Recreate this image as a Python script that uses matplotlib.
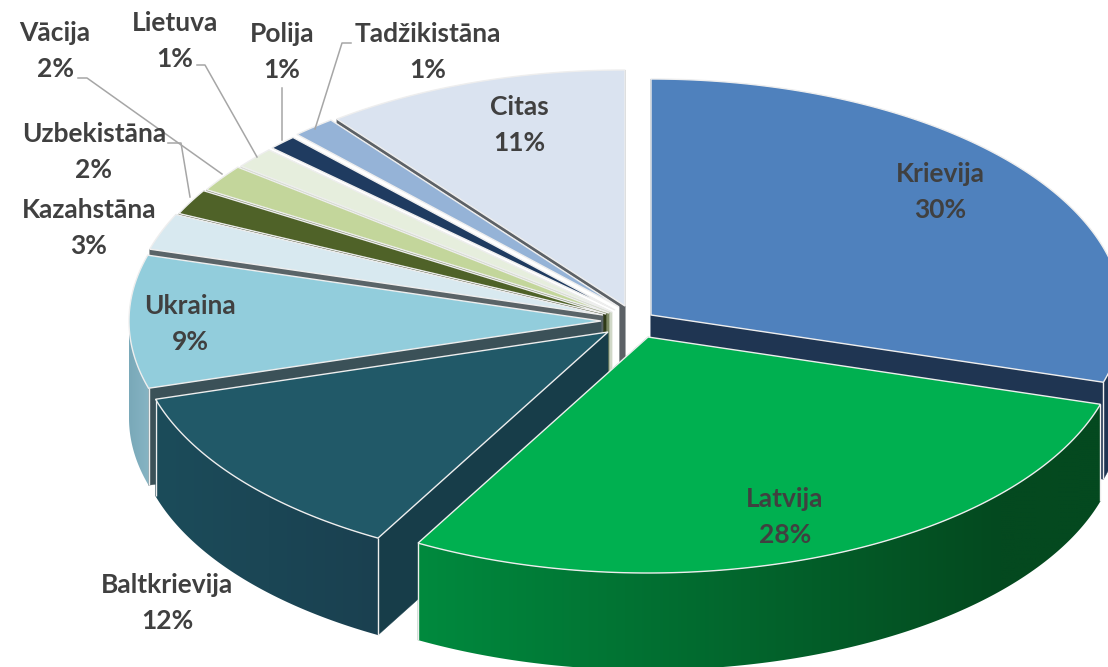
import numpy as np
import matplotlib
matplotlib.use('Agg')
import matplotlib.pyplot as plt
from matplotlib.patches import Polygon

plt.rcParams['font.family'] = ['Lato', 'DejaVu Sans']

# shares, clockwise from 12 o'clock
names = ['Krievija', 'Latvija', 'Baltkrievija', 'Ukraina', 'Kazahstāna', 'Uzbekistāna',
         'Vācija', 'Lietuva', 'Polija', 'Tadžikistāna', 'Citas']
shares = [29.6, 28.5, 12.3, 9.1, 2.5, 1.75, 1.85, 1.45, 1.0, 1.5, 10.45]
labels_pct = [30, 28, 12, 9, 3, 2, 2, 1, 1, 1, 11]

# layout
RX, RY, DEPTH = 472, 236, 97
apex = {'Krievija': (651, 315), 'Latvija': (648, 337), 'Baltkrievija': (608, 332),
        'Ukraina': (601, 321), 'Kazahstāna': (603, 315), 'Uzbekistāna': (606, 314),
        'Vācija': (609, 313), 'Lietuva': (612, 312), 'Polija': (615, 310),
        'Tadžikistāna': (619, 307), 'Citas': (625, 306)}
top_col = {'Krievija': '#4f81bd', 'Latvija': '#00b050', 'Baltkrievija': '#215968',
           'Ukraina': '#92cddc', 'Kazahstāna': '#d8e9f0', 'Uzbekistāna': '#4f6228',
           'Vācija': '#c3d69b', 'Lietuva': '#e6eedd', 'Polija': '#1f3b60',
           'Tadžikistāna': '#95b3d7', 'Citas': '#dae3f0'}
radial_col = {'Krievija': '#1f3552', 'Latvija': '#00602c', 'Baltkrievija': '#173d49',
              'Ukraina': '#3b5158', 'Kazahstāna': '#5a6468', 'Uzbekistāna': '#2f3a18',
              'Vācija': '#7d8a65', 'Lietuva': '#d0d8c8', 'Polija': '#ffffff',
              'Tadžikistāna': '#ffffff', 'Citas': '#5c6166'}
# outer wall colour at the left and right end of the gradient
wall_grad = {'Latvija': ('#008a3e', '#04491f', 418, 1000),
             'Baltkrievija': ('#1c4c5a', '#1a4050', 156, 380),
             'Ukraina': ('#7aa9b9', '#87b5c4', 130, 150)}
label_pos = {'Krievija': (940, 192), 'Latvija': (785, 517), 'Baltkrievija': (167, 603),
             'Ukraina': (190, 324), 'Kazahstāna': (89, 228), 'Uzbekistāna': (94, 152),
             'Vācija': (55, 51), 'Lietuva': (175, 41), 'Polija': (282, 52),
             'Tadžikistāna': (428, 52), 'Citas': (519, 125)}
leaders = [[(78, 78), (87, 78), (222, 174)],
           [(197, 65), (205, 65), (257, 157)],
           [(282, 88), (282, 140)],
           [(351, 43), (342, 43), (315, 129)],
           [(168, 143), (181, 143), (190, 197)]]
paint_order = ['Citas', 'Tadžikistāna', 'Polija', 'Lietuva', 'Vācija', 'Uzbekistāna',
               'Kazahstāna', 'Ukraina', 'Krievija', 'Baltkrievija', 'Latvija']
EDGE = '#eeeeee'


def rim(name, a):
    a = np.radians(a)
    return apex[name][0] + RX * np.sin(a), apex[name][1] - RY * np.cos(a)


def draw_radial(ax, name, a):
    x, y = rim(name, a)
    ax_, ay_ = apex[name]
    ax.fill([ax_, x, x, ax_], [ay_, y, y + DEPTH, ay_ + DEPTH],
            color=radial_col[name], lw=0.3)


def draw_outer_wall(ax, name, a0, a1):
    # only the half facing the viewer shows
    a0, a1 = max(a0, 90), min(a1, 270)
    if a1 <= a0:
        return
    angs = np.linspace(a0, a1, max(int(a1 - a0) * 4, 8) + 1)
    pts = [rim(name, a) for a in angs]
    low = [(x, y + DEPTH) for x, y in pts[::-1]]
    poly = Polygon(pts + low, closed=True, transform=ax.transData)
    if name not in wall_grad:
        poly.set(facecolor=radial_col[name], edgecolor=radial_col[name], lw=0.3)
        ax.add_patch(poly)
        return
    cl, cr, xl, xr = wall_grad[name]
    xs = [p[0] for p in pts]
    ys = [p[1] for p in pts]
    x0, x1 = min(xs), max(xs)
    t = np.clip((np.linspace(x0, x1, 256) - xl) / (xr - xl), 0, 1)[:, None]
    c0 = np.array(matplotlib.colors.to_rgb(cl))
    c1 = np.array(matplotlib.colors.to_rgb(cr))
    grad = (c0 * (1 - t) + c1 * t)[None, :, :]
    im = ax.imshow(grad, extent=(x0, x1, max(ys) + DEPTH + 1, min(ys) - 1), aspect='auto',
                   zorder=1, interpolation='bilinear')
    im.set_clip_path(poly)


def draw_slice(ax, name, a0, a1):
    draw_radial(ax, name, a0)
    draw_radial(ax, name, a1)
    draw_outer_wall(ax, name, a0, a1)
    # top face
    angs = np.linspace(a0, a1, max(int(a1 - a0) * 4, 8) + 1)
    xs, ys = zip(*[rim(name, a) for a in angs])
    px = [apex[name][0]] + list(xs)
    py = [apex[name][1]] + list(ys)
    ax.fill(px, py, facecolor=top_col[name], edgecolor=EDGE, lw=1.0, joinstyle='miter')
    # corner lines on the front part of the pie
    for a in (a0, a1):
        if 90 < a < 270:
            x, y = rim(name, a)
            ax.plot([x, x], [y, y + DEPTH], color=EDGE, lw=1.0, solid_capstyle='butt')


fig = plt.figure(figsize=(11.08, 6.67), dpi=100)
ax = fig.add_axes([0, 0, 1, 1])
ax.axis('off')

edges = np.cumsum([0] + shares) / sum(shares) * 360
spans = {n: (edges[i], edges[i + 1]) for i, n in enumerate(names)}
for n in paint_order:
    draw_slice(ax, n, *spans[n])

for pts in leaders:
    xs, ys = zip(*pts)
    ax.plot(xs, ys, color='#a6a6a6', lw=1.1)

for n, p in zip(names, labels_pct):
    x, y = label_pos[n]
    ax.text(x, y, f'{n}\n{p}%', ha='center', va='center', fontsize=19, fontweight='bold',
            color='#404040', linespacing=1.57)

ax.set_xlim(0, 1108)
ax.set_ylim(667, 0)
fig.savefig('out.png', dpi=100)
